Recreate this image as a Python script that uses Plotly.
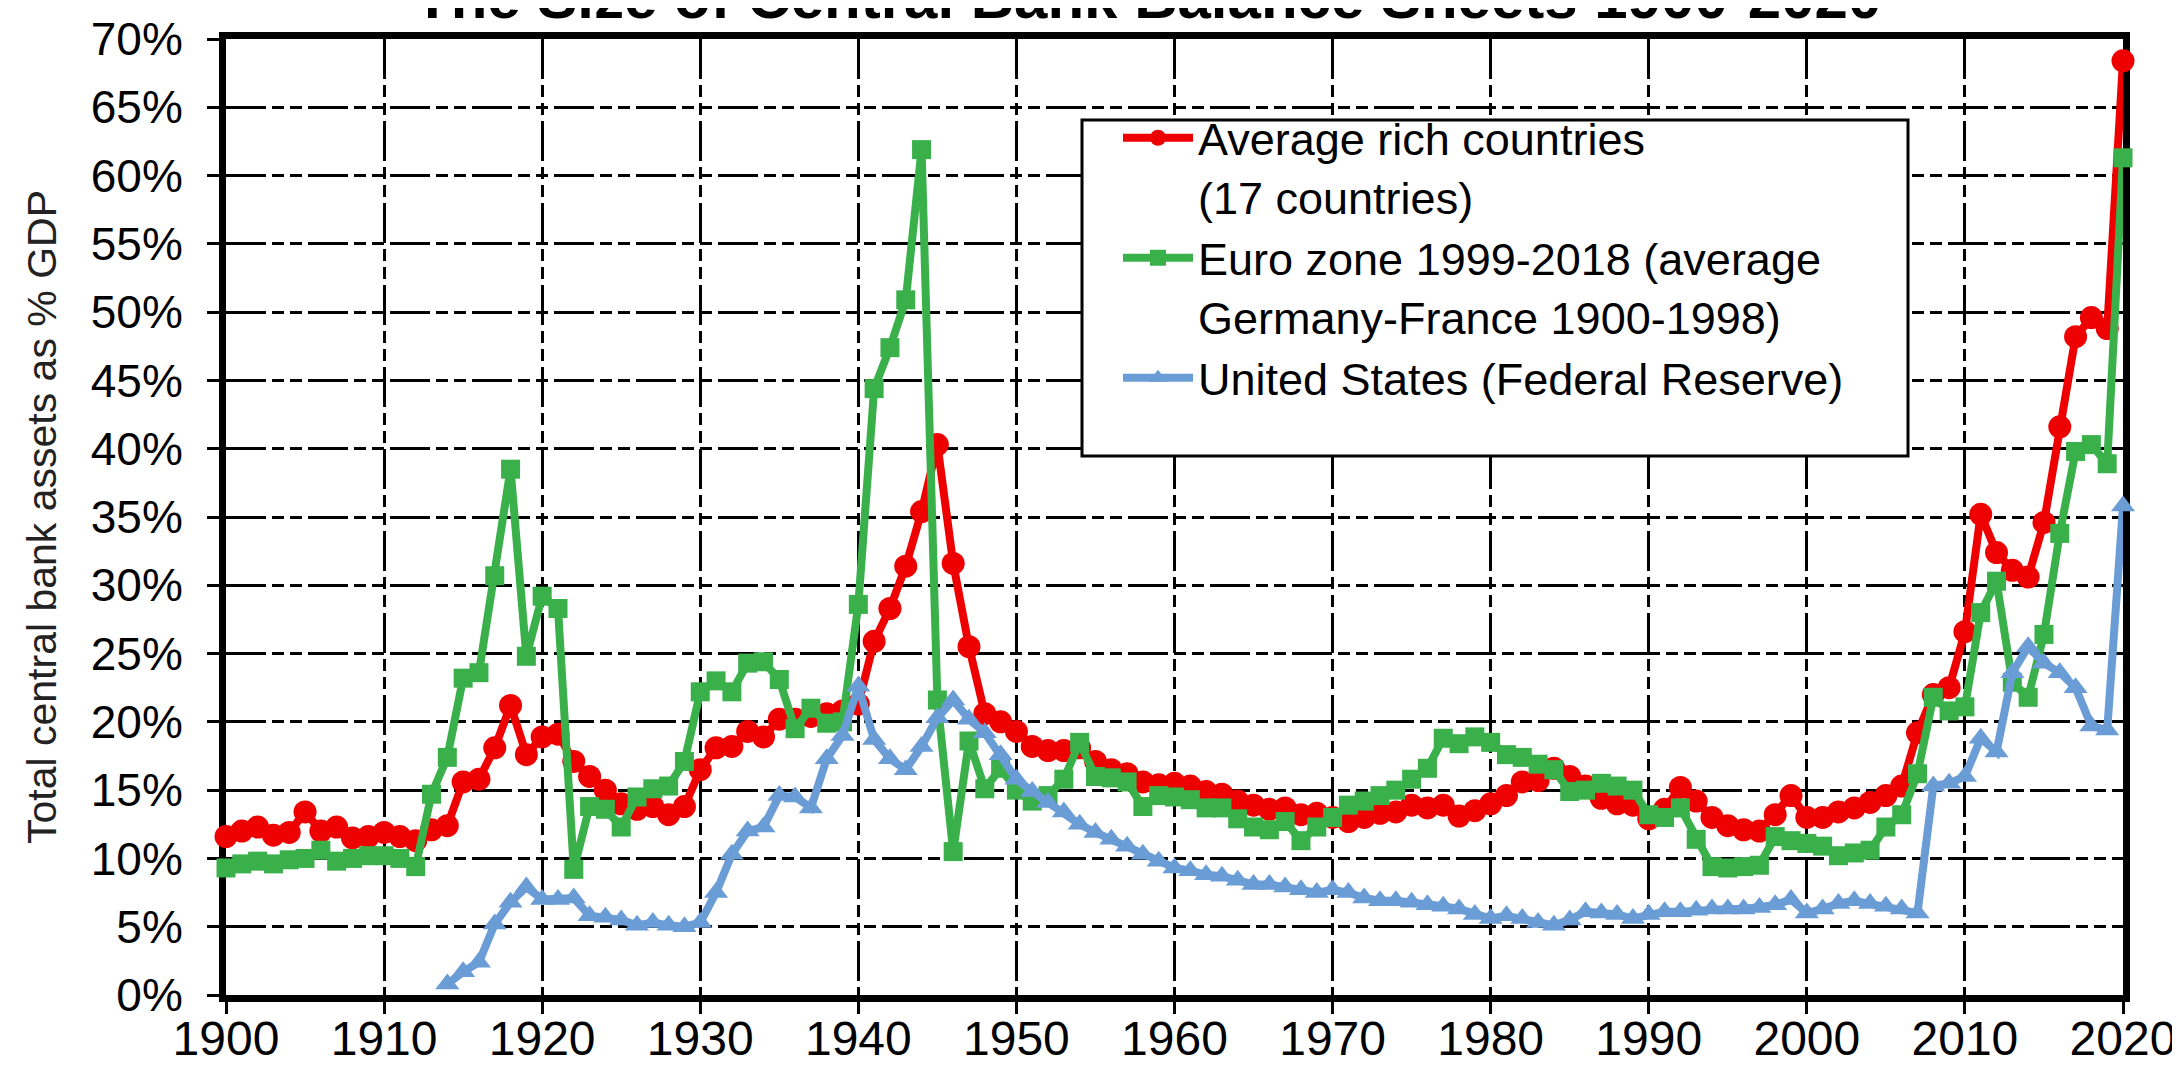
import plotly.graph_objects as go

years = list(range(1900, 2021))

rich = [11.6, 12.0, 12.3, 11.7, 11.9, 13.4, 12.0, 12.3, 11.5, 11.6,
        11.9, 11.6, 11.3, 12.1, 12.4, 15.6, 15.8, 18.1, 21.2, 17.6,
        18.9, 19.1, 17.1, 16.0, 15.0, 14.0, 13.6, 13.8, 13.2, 13.8,
        16.5, 18.1, 18.2, 19.3, 18.9, 20.2, 20.2, 20.4, 20.6, 20.8,
        21.3, 25.9, 28.3, 31.4, 35.4, 40.3, 31.6, 25.5, 20.6, 20.0,
        19.3, 18.2, 17.9, 17.9, 18.1, 17.1, 16.5, 16.2, 15.6, 15.4,
        15.5, 15.3, 14.9, 14.7, 14.2, 13.9, 13.6, 13.7, 13.2, 13.3,
        13.0, 12.7, 13.0, 13.3, 13.4, 13.9, 13.7, 13.9, 13.1, 13.5,
        14.0, 14.6, 15.6, 15.7, 16.6, 16.0, 15.3, 14.4, 14.0, 13.9,
        12.9, 13.6, 15.2, 14.2, 13.0, 12.4, 12.1, 12.0, 13.2, 14.6,
        13.0, 13.0, 13.4, 13.7, 14.1, 14.6, 15.3, 19.2, 22.0, 22.5,
        26.6, 35.2, 32.4, 31.1, 30.6, 34.6, 41.6, 48.2, 49.6, 48.8,
        68.4]

euro = [9.3, 9.6, 9.8, 9.6, 9.9, 10.0, 10.6, 9.8, 10.0, 10.2,
        10.2, 10.0, 9.4, 14.7, 17.4, 23.2, 23.6, 30.7, 38.5, 24.8,
        29.2, 28.3, 9.2, 13.8, 13.6, 12.3, 14.5, 15.1, 15.3, 17.1,
        22.2, 23.0, 22.2, 24.3, 24.4, 23.1, 19.5, 21.0, 19.9, 20.0,
        28.6, 44.4, 47.4, 50.9, 61.9, 21.6, 10.5, 18.6, 15.1, 16.6,
        15.0, 14.2, 14.6, 15.8, 18.5, 16.0, 15.9, 15.6, 13.8, 14.6,
        14.5, 14.3, 13.7, 13.7, 12.9, 12.3, 12.1, 12.7, 11.3, 12.3,
        13.0, 13.9, 14.2, 14.6, 15.0, 15.8, 16.6, 18.8, 18.4, 18.9,
        18.5, 17.6, 17.4, 16.9, 16.5, 14.9, 15.0, 15.5, 15.3, 15.0,
        13.2, 13.0, 13.7, 11.4, 9.4, 9.3, 9.4, 9.5, 11.6, 11.3,
        11.1, 10.9, 10.2, 10.4, 10.6, 12.3, 13.2, 16.2, 21.8, 20.8,
        21.1, 28.0, 30.3, 22.9, 21.8, 26.4, 33.8, 39.8, 40.3, 38.9,
        61.3]

us = [None] * 14 + [
        0.8, 1.7, 2.4, 5.2, 6.8, 7.9,
        7.0, 7.0, 7.1, 5.8, 5.7, 5.5, 5.1, 5.3, 5.1, 5.0,
        5.3, 7.5, 10.3, 12.0, 12.3, 14.6, 14.5, 13.7, 17.3, 19.0,
        22.6, 18.7, 17.3, 16.5, 18.2, 20.3, 21.6, 20.2, 19.2, 17.6,
        15.8, 14.9, 14.1, 13.4, 12.5, 11.9, 11.4, 10.9, 10.3, 9.8,
        9.3, 9.1, 8.8, 8.7, 8.4, 8.1, 8.1, 7.9, 7.7, 7.5,
        7.7, 7.5, 7.1, 6.9, 6.9, 6.8, 6.6, 6.5, 6.3, 5.9,
        5.6, 5.8, 5.6, 5.3, 5.1, 5.5, 6.1, 6.0, 5.9, 5.6,
        5.9, 6.1, 6.1, 6.2, 6.3, 6.3, 6.3, 6.4, 6.6, 7.0,
        6.0, 6.3, 6.7, 6.9, 6.7, 6.5, 6.3, 6.0, 15.3, 15.5,
        16.0, 18.8, 17.8, 23.6, 25.5, 24.3, 23.6, 22.5, 19.7, 19.4,
        35.8]

names = ["Average rich countries<br>(17 countries)",
         "Euro zone 1999-2018 (average<br>Germany-France 1900-1998)",
         "United States (Federal Reserve)"]

title_text = "The Size of Central Bank Balance Sheets 1900-2020"
y_title = "Total central bank assets as % GDP"

RED = "#EE0000"
GREEN = "#3AB04B"
BLUE = "#6A9CD6"
FONT = "Liberation Sans, Arial, sans-serif"

fig = go.Figure()
fig.add_trace(go.Scatter(x=years, y=rich, name=names[0], mode="lines+markers",
                         line=dict(color=RED, width=8),
                         marker=dict(symbol="circle", size=23, color=RED),
                         cliponaxis=False))
fig.add_trace(go.Scatter(x=years, y=euro, name=names[1], mode="lines+markers",
                         line=dict(color=GREEN, width=8),
                         marker=dict(symbol="square", size=19, color=GREEN),
                         cliponaxis=False))
fig.add_trace(go.Scatter(x=years, y=us, name=names[2], mode="lines+markers",
                         line=dict(color=BLUE, width=8),
                         marker=dict(symbol="triangle-up", size=21, color=BLUE),
                         cliponaxis=False))

# page body has an 8px default margin: figure is offset by (8, 8) in the window
OFF = 8
W, H = 2180 - OFF, 1074 - OFF
# window-pixel targets of the plot area
WL, WR, WT, WB = 226, 2123, 39, 995
L, T = WL - OFF, WT - OFF
R, B = W - (WR - OFF), H - (WB - OFF)
pw, ph = W - L - R, H - T - B

def px_x(xw):
    return (xw - OFF - L) / pw

def px_y(yw):
    return (H - B - (yw - OFF)) / ph

dash = "40px,6px,12px,6px,12px,6px"

fig.add_shape(type="rect", xref="paper", yref="paper",
              x0=px_x(1082), x1=px_x(1908), y0=px_y(456), y1=px_y(120),
              line=dict(color="black", width=3), fillcolor="white", layer="above")

fig.add_annotation(text="<b>" + title_text + "</b>", xref="paper", yref="paper",
                   x=px_x(1147), y=px_y(-3), xanchor="center", yanchor="middle",
                   showarrow=False,
                   font=dict(size=60, family=FONT, color="black"))

fig.update_layout(
    width=W, height=H,
    margin=dict(l=L, r=R, t=T, b=B, pad=0, autoexpand=False),
    paper_bgcolor="white", plot_bgcolor="white",
    font=dict(family=FONT, color="black"),
    showlegend=True,
    legend=dict(x=px_x(1118), y=px_y(102), xanchor="left", yanchor="top",
                bgcolor="rgba(0,0,0,0)", borderwidth=0,
                font=dict(size=45, family=FONT, color="black"),
                valign="top", itemwidth=70, tracegroupgap=0),
)

fig.update_xaxes(range=[1900, 2020], dtick=10, tick0=1900, automargin=False,
                 showline=True, linewidth=7, linecolor="black", mirror=True,
                 ticks="outside", ticklen=12, tickwidth=3, tickcolor="black",
                 showgrid=True, gridcolor="black", gridwidth=3, griddash=dash,
                 zeroline=False, layer="below traces",
                 tickfont=dict(size=48, color="black"), ticklabelstandoff=-17)
fig.update_yaxes(range=[0, 70], dtick=5, tick0=0, ticksuffix="%", automargin=False,
                 showline=True, linewidth=7, linecolor="black", mirror=True,
                 ticks="outside", ticklen=12, tickwidth=3, tickcolor="black",
                 showgrid=True, gridcolor="black", gridwidth=3, griddash=dash,
                 zeroline=False, layer="below traces",
                 tickfont=dict(size=46, color="black"), ticklabelstandoff=15,
                 title=dict(text=y_title, standoff=24,
                            font=dict(size=41, color="#222222")))

fig.write_html("out.html")
